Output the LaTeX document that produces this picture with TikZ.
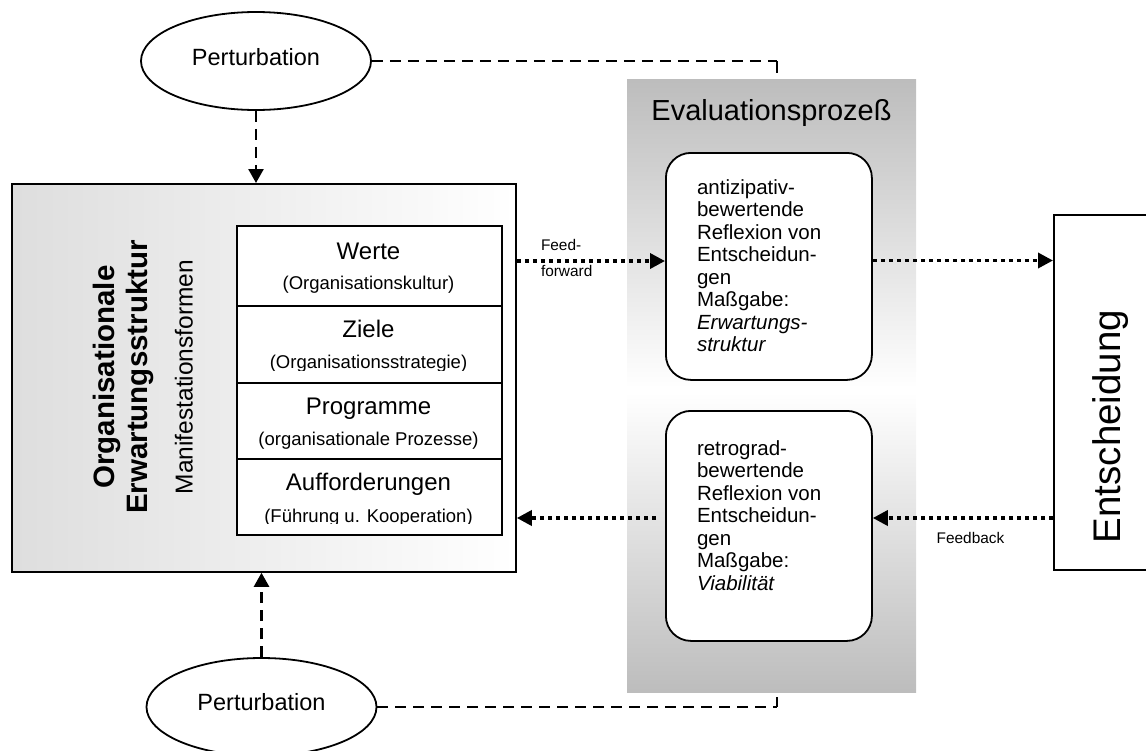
\documentclass[tikz,border=0pt]{standalone}
\usepackage{fontspec}
\setmainfont{Liberation Sans}
\usetikzlibrary{shapes.geometric,arrows.meta}

\newcommand\fsz[1]{\fontsize{#1}{#1}\selectfont}
\newcommand\evlines[1]{\vtop{\baselineskip=22.5pt\lineskiplimit=-20pt #1}}

\begin{document}
\begin{tikzpicture}[x=1pt,y=-1pt,
  txt/.style={inner sep=0pt, outer sep=0pt},
  boxline/.style={draw=black, line width=1.8pt},
  perturb/.style={boxline, ellipse, fill=white, minimum width=230pt,
    minimum height=98pt, inner sep=0pt, text depth=8pt, font=\fsz{23.5}},
  rowbox/.style={boxline, fill=white, minimum width=265pt, inner sep=0pt,
    anchor=north west},
  rowtitle/.style={txt, anchor=base, font=\fsz{24}},
  rowsub/.style={txt, anchor=base, font=\fsz{18.5}},
  roundbox/.style={boxline, fill=white, rounded corners=25pt,
    minimum width=206pt, inner sep=0pt, anchor=north west},
  evtext/.style={txt, anchor=base west, font=\fsz{20.5}},
  smalllbl/.style={txt, anchor=base west, font=\fsz{15.4}},
  dashline/.style={line width=2.5pt, dash pattern=on 11pt off 7pt},
  tickline/.style={line width=2.5pt},
  dasharrow/.style={dashline, -{Triangle[length=14pt,width=15pt]}},
  dotarrow/.style={line width=3.5pt, dash pattern=on 4.5pt off 3.5pt,
    -{Triangle[length=15pt,width=15pt]}},
]
\useasboundingbox (0,0) rectangle (1146,750);

% Evaluation process background (two shaded halves)
\fill[top color=black!26, bottom color=white] (627,79) rectangle (916,388);
\fill[top color=white, bottom color=black!26] (627,392) rectangle (916,692);
\node[txt, anchor=base, font=\fsz{29}] (evtitle) at (771.5,120) {Evaluationsprozeß};

% Organisational expectation structure
\node[boxline, left color=black!13, right color=white, minimum width=504pt,
  minimum height=388pt, inner sep=0pt, anchor=north west] (org) at (11,183) {};
\node[txt, rotate=90, anchor=base, font=\bfseries\fsz{29.5}] (orgA) at (114,377) {Organisationale};
\node[txt, rotate=90, anchor=base, font=\bfseries\fsz{29.5}] (orgB) at (147.4,377) {Erwartungsstruktur};
\node[txt, rotate=90, anchor=base, font=\fsz{24.5}] (orgC) at (192.6,377) {Manifestationsformen};

% Manifestation forms stack
\node[rowbox, minimum height=80pt] (r1) at (236,225) {};
\node[rowbox, minimum height=77pt] (r2) at (236,305) {};
\node[rowbox, minimum height=76pt] (r3) at (236,382) {};
\node[rowbox, minimum height=76pt] (r4) at (236,458) {};

\node[rowtitle] (t1) at (368.5,259) {Werte};
\node[rowsub] (s1) at (368.5,289) {(Organisationskultur)};
\node[rowtitle] (t2) at (368.5,337.5) {Ziele};
\begin{scope}
  \clip (236,305) rectangle (501,370.5);
  \node[rowsub] (s2) at (368.5,368) {(Organisationsstrategie)};
\end{scope}
\node[rowtitle] (t3) at (368.5,414) {Programme};
\node[rowsub] (s3) at (368.5,445) {(organisationale Prozesse)};
\node[rowtitle] (t4) at (368.5,490) {Aufforderungen};
\begin{scope}
  \clip (236,458) rectangle (501,523.5);
  \node[rowsub] (s4) at (368.5,522) {(Führung u. Kooperation)};
\end{scope}

% Reflection boxes
\node[roundbox, minimum height=227pt] (anti) at (665,152) {};
\node[evtext] (antitxt) at (697,194) {\evlines{\hbox{antizipativ-}\hbox{bewertende}\hbox{Reflexion von}\hbox{Entscheidun-}\hbox{gen}\hbox{Maßgabe:}\hbox{\itshape Erwartungs-}\hbox{\itshape struktur}}};
\node[roundbox, minimum height=230pt] (retro) at (665,410) {};
\node[evtext] (retrotxt) at (697,455) {\evlines{\hbox{retrograd-}\hbox{bewertende}\hbox{Reflexion von}\hbox{Entscheidun-}\hbox{gen}\hbox{Maßgabe:}\hbox{\itshape Viabilität}}};

% Decision
\node[boxline, minimum width=130pt, minimum height=355pt, inner sep=0pt,
  anchor=north west] (ent) at (1053,214) {};
\node[txt, rotate=90, anchor=base, font=\fsz{38.5}] (enttxt) at (1120,426.5) {Entscheidung};

% Perturbations
\node[perturb] (p1) at (256,61) {Perturbation};
\node[perturb, text depth=10pt] (p2) at (261.5,707) {Perturbation};

\draw[dasharrow] (p1.south) -- (p1.south |- org.north);
\draw[dasharrow] (p2.north) -- (p2.north |- org.south);
\coordinate (ttick) at (777,73);
\coordinate (btick) at (777,697);
\draw[dashline] (p1.east) -- (p1.east -| ttick);
\draw[tickline] (p1.east -| ttick) -- (ttick);
\draw[dashline] (p2.east) -- (p2.east -| btick);
\draw[tickline] (p2.east -| btick) -- (btick);

% Feed-forward and feedback loops
\draw[dotarrow] (org.east |- 0,261) -- (anti.west |- 0,261);
\draw[dotarrow] (anti.east |- 0,260.5) -- (ent.west |- 0,260.5);
\draw[dotarrow] (ent.west |- 0,518) -- (retro.east |- 0,518);
\draw[dotarrow, shorten <=9pt] (retro.west |- 0,518) -- (org.east |- 0,518);

\node[smalllbl] (ffa) at (541,250.7) {Feed-};
\node[smalllbl] (ffb) at (541,276.7) {forward};
\node[smalllbl] (fb) at (936.7,543) {Feedback};
\end{tikzpicture}
\end{document}
